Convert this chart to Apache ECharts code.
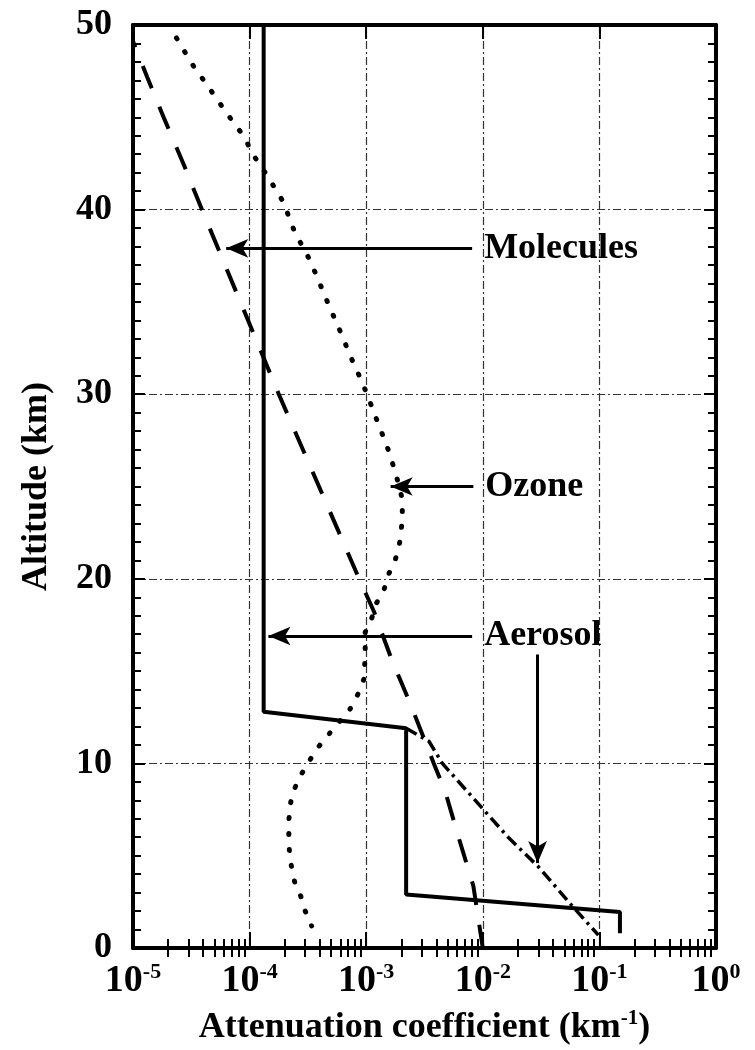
<!DOCTYPE html>
<html>
<head>
<meta charset="utf-8">
<script src="https://cdn.jsdelivr.net/npm/echarts@6.0.0/dist/echarts.min.js"></script>
<style>
  html, body { margin: 0; padding: 0; background: #fff; }
  #chart { width: 755px; height: 1050px; }
</style>
</head>
<body>
<div id="chart"></div>
<script>
// points are [attenuation coefficient (km^-1), altitude (km)]
const aerosol = [[1.32e-4, 50], [1.32e-4, 12.8], [2.2e-3, 11.9], [2.2e-3, 2.9], [0.15, 1.95], [0.15, 0.8]]
const aerosolHigh = [[2.2e-3, 11.9], [3.45e-3, 11.2], [4.5e-3, 10], [9.8e-3, 7.6], [1.65e-2, 6.0],
  [3.0e-2, 4.4], [5.8e-2, 2.3], [9.8e-2, 0.7]]
const molecules = [[8.8e-6, 50], [1.32e-5, 47.2], [1.86e-5, 44.9], [2.7e-5, 42.5], [3.9e-5, 40],
  [1.78e-4, 30], [8.7e-4, 20], [1.17e-3, 18.2], [1.66e-3, 15.6], [2.4e-3, 13.2], [3.8e-3, 10],
  [4.8e-3, 8.4], [6.3e-3, 5.85], [8.3e-3, 3.36], [1.0e-2, 0]]
const ozone = [[2.36e-5, 49.3], [3.2e-5, 47.9], [4.6e-5, 46.5], [6.4e-5, 45.2], [9.1e-5, 43.9],
  [1.04e-4, 43.1], [1.43e-4, 41.8], [1.95e-4, 40.4], [2.43e-4, 38.8], [3.2e-4, 37.4], [3.65e-4, 36.6],
  [4.65e-4, 35.0], [5.9e-4, 33.5], [7.4e-4, 32.0], [9.3e-4, 30.6], [1.17e-3, 29.0], [1.3e-3, 28.2],
  [1.45e-3, 27.5], [1.6e-3, 26.7], [1.77e-3, 25.8], [1.92e-3, 25.0], [2.04e-3, 24.3], [2.04e-3, 23.5],
  [2.0e-3, 22.6], [1.92e-3, 21.8], [1.77e-3, 21.0], [1.57e-3, 20.3], [1.42e-3, 19.4], [1.23e-3, 18.7],
  [1.12e-3, 17.9], [9.8e-4, 17.1], [9.8e-4, 16.0], [9.6e-4, 14.6], [8.7e-4, 13.9], [7.6e-4, 13.1],
  [5.3e-4, 11.9], [4.35e-4, 11.3], [3.6e-4, 10.6], [3.1e-4, 9.9], [2.65e-4, 9.2], [2.35e-4, 8.4],
  [2.2e-4, 7.6], [2.17e-4, 6.8], [2.17e-4, 6.0], [2.2e-4, 5.1], [2.3e-4, 4.3], [2.45e-4, 3.5],
  [2.75e-4, 2.8], [3.0e-4, 2.0], [3.4e-4, 1.2]]

// arrows [from, to]
const arrowMolecules = [[8.1e-3, 37.9], [6.3e-5, 37.9]]
const arrowOzone = [[8.3e-3, 25.0], [1.62e-3, 25.0]]
const arrowAerosol = [[8.1e-3, 16.9], [1.45e-4, 16.9]]
const arrowAerosolDown = [[2.95e-2, 15.9], [2.95e-2, 4.6]]

const xTickExp = ['-5', '-4', '-3', '-2', '-1', '0']
const minorMult = [2, 3, 4, 5, 6, 7, 8, 9]

const minorValues = []
for (let e = -5; e < 0; e++) {
  minorMult.forEach((m) => minorValues.push(m * Math.pow(10, e)))
}

const font = 'Liberation Serif, Times New Roman, serif'
const gridStyle = { color: '#333', width: 1.2, type: [8, 3, 2, 3] }
const frame = { show: true, onZero: false, lineStyle: { color: '#000', width: 4 } }

function logAxis(pos, extra) {
  return Object.assign({
    type: 'log',
    logBase: 10,
    min: 1e-5,
    max: 1,
    position: pos,
    axisLine: { show: false },
    axisTick: { show: false },
    axisLabel: { show: false },
    splitLine: { show: false }
  }, extra)
}

function label(text) {
  return {
    show: true,
    position: 'start',
    distance: 12,
    formatter: text,
    fontFamily: font,
    fontWeight: 'bold',
    fontSize: 36,
    color: '#000'
  }
}

function arrows(text, pairs) {
  return {
    silent: true,
    symbol: ['none', 'arrow'],
    symbolSize: [14, 22],
    itemStyle: { color: '#000' },
    lineStyle: { color: '#000', width: 3, type: 'solid' },
    label: label(text),
    data: pairs
  }
}

const chart = echarts.init(document.getElementById('chart'))

const option = {
  animation: false,
  backgroundColor: '#fff',
  grid: { left: 133, right: 39, top: 25, bottom: 102, containLabel: false, outerBoundsMode: 'none' },
  xAxis: [
    logAxis('bottom', {
      axisLine: frame,
      axisTick: { show: true, inside: true, length: 16, lineStyle: { color: '#000', width: 2 } },
      splitLine: { show: true, lineStyle: gridStyle },
      axisLabel: {
        show: true,
        margin: 13,
        formatter: (v) => {
          const e = Math.round(Math.log10(v))
          return '{b|10}{s|' + xTickExp[e + 5] + '}'
        },
        rich: {
          b: { fontFamily: font, fontWeight: 'bold', fontSize: 38, color: '#000', lineHeight: 40 },
          s: { fontFamily: font, fontWeight: 'bold', fontSize: 22, color: '#000', verticalAlign: 'top', lineHeight: 22 }
        }
      },
      name: '{t|Attenuation coefficient (km}{s|-1}{t|)}',
      nameLocation: 'middle',
      nameGap: 60,
      nameTextStyle: {
        rich: {
          t: { fontFamily: font, fontWeight: 'bold', fontSize: 36, color: '#000', lineHeight: 40 },
          s: { fontFamily: font, fontWeight: 'bold', fontSize: 21, color: '#000', verticalAlign: 'top', lineHeight: 21 }
        }
      }
    }),
    logAxis('bottom', {
      axisTick: { show: true, inside: true, length: 9, customValues: minorValues, lineStyle: { color: '#000', width: 2 } }
    }),
    logAxis('top', {
      axisLine: frame,
      axisTick: { show: true, inside: true, length: 14, lineStyle: { color: '#000', width: 2 } }
    }),
    logAxis('top', {
      axisTick: { show: true, inside: true, length: 9, customValues: minorValues, lineStyle: { color: '#000', width: 2 } }
    })
  ],
  yAxis: [
    {
      type: 'value',
      min: 0,
      max: 50,
      interval: 10,
      position: 'left',
      axisLine: frame,
      axisTick: { show: true, inside: true, length: 12, lineStyle: { color: '#000', width: 2 } },
      minorTick: { show: true, splitNumber: 10, length: 8, lineStyle: { color: '#000', width: 2 } },
      splitLine: { show: true, lineStyle: gridStyle },
      axisLabel: { margin: 21, fontFamily: font, fontWeight: 'bold', fontSize: 36, color: '#000' },
      name: 'Altitude (km)',
      nameLocation: 'middle',
      nameGap: 78,
      nameTextStyle: { fontFamily: font, fontWeight: 'bold', fontSize: 36, color: '#000' }
    },
    {
      type: 'value',
      min: 0,
      max: 50,
      interval: 10,
      position: 'right',
      axisLine: frame,
      axisTick: { show: true, inside: true, length: 12, lineStyle: { color: '#000', width: 2 } },
      minorTick: { show: true, splitNumber: 10, length: 8, lineStyle: { color: '#000', width: 2 } },
      splitLine: { show: false },
      axisLabel: { show: false }
    }
  ],
  series: [
    {
      name: 'Ozone',
      type: 'line',
      symbol: 'none',
      data: ozone,
      lineStyle: { color: '#000', width: 5, type: [1, 15], cap: 'round' },
      markLine: arrows('Ozone', [[{ coord: arrowOzone[0] }, { coord: arrowOzone[1] }]])
    },
    {
      name: 'Molecules',
      type: 'line',
      symbol: 'none',
      data: molecules,
      lineStyle: { color: '#000', width: 4, type: [24, 20] },
      markLine: arrows('Molecules', [[{ coord: arrowMolecules[0] }, { coord: arrowMolecules[1] }]])
    },
    {
      name: 'Aerosol (high)',
      type: 'line',
      symbol: 'none',
      data: aerosolHigh,
      lineStyle: { color: '#000', width: 3.5, type: [12, 5, 3, 5] }
    },
    {
      name: 'Aerosol',
      type: 'line',
      symbol: 'none',
      data: aerosol,
      lineStyle: { color: '#000', width: 4 },
      markLine: arrows('Aerosol', [
        [{ coord: arrowAerosol[0] }, { coord: arrowAerosol[1] }],
        [{ coord: arrowAerosolDown[0], label: { show: false } }, { coord: arrowAerosolDown[1], label: { show: false } }]
      ])
    }
  ]
}

option && chart.setOption(option)
</script>
</body>
</html>
